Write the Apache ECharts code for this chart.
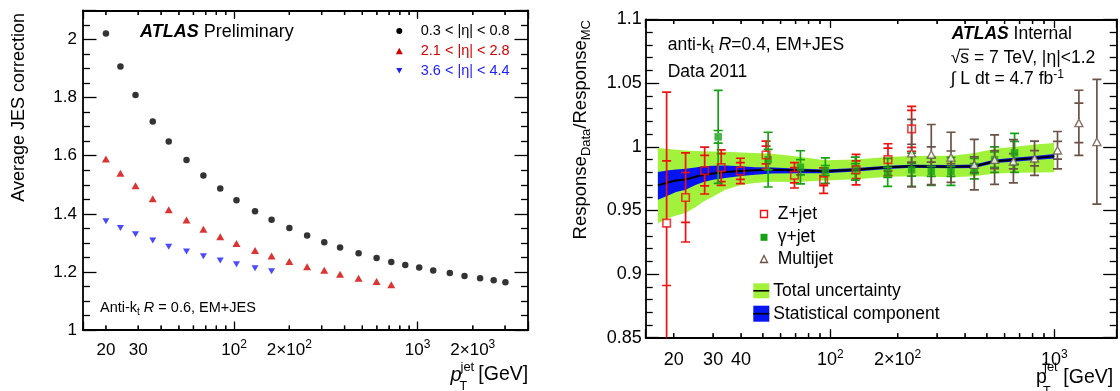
<!DOCTYPE html>
<html>
<head>
<meta charset="utf-8">
<script src="https://cdn.jsdelivr.net/npm/echarts@6/dist/echarts.min.js"></script>
<style>
  html, body { margin: 0; padding: 0; background: #fff; }
  #chart { width: 1120px; height: 391px; }
</style>
</head>
<body>
<div id="chart"></div>
<script>
// ---------- Left panel: average JES correction vs jet pT ----------
const ptBarrel   = [20, 24, 29, 36, 44, 55, 68, 84, 103, 130, 160, 200, 250, 310, 378, 477, 598, 719, 857, 1021, 1217, 1499, 1803, 2193, 2600, 3013];
const corrBarrel = [2.021, 1.907, 1.809, 1.718, 1.649, 1.585, 1.532, 1.487, 1.447, 1.409, 1.380, 1.351, 1.325, 1.302, 1.284, 1.264, 1.248, 1.234, 1.224, 1.215, 1.205, 1.196, 1.186, 1.178, 1.171, 1.164];
const ptEndcap   = [20, 24, 29, 36, 44, 55, 68, 84, 103, 130, 160, 200, 250, 310, 378, 477, 598, 719];
const corrEndcap = [1.589, 1.540, 1.497, 1.452, 1.414, 1.379, 1.347, 1.321, 1.298, 1.274, 1.255, 1.236, 1.218, 1.206, 1.192, 1.178, 1.167, 1.156];
const ptForward   = [20, 24, 29, 36, 44, 55, 68, 84, 103, 130, 160];
const corrForward = [1.374, 1.351, 1.330, 1.308, 1.287, 1.270, 1.254, 1.239, 1.226, 1.213, 1.202];

const leftXLabelValues = [20, 30, 100, 200, 1000, 2000];
const leftXLabelTexts  = ['20', '30', '10{s|2}', '2×10{s|2}', '10{s|3}', '2×10{s|3}'];
const leftXMinorTicks  = [20, 30, 40, 50, 60, 70, 80, 90, 200, 300, 400, 500, 600, 700, 800, 900, 2000, 3000];
const leftYLabelValues = [1, 1.2, 1.4, 1.6, 1.8, 2];

// ---------- Right panel: in-situ response ratio Data/MC ----------
const zjetPt   = [18.6, 22.6, 27.5, 32.6, 39.7, 51.7, 69.2, 93.4, 130.4, 181, 230.8];
const zjetVal  = [0.940, 0.9602, 0.9813, 0.9836, 0.981, 0.9935, 0.9776, 0.9734, 0.982, 0.9899, 1.0141];
const zjetStat = [0.049, 0.0196, 0.012, 0.011, 0.0066, 0.007, 0.006, 0.004, 0.007, 0.009, 0.0145];
const zjetTot  = [0.103, 0.035, 0.0184, 0.014, 0.010, 0.011, 0.010, 0.010, 0.012, 0.0125, 0.0176];

const gjetPt   = [31.6, 52.8, 73.6, 95.1, 129.4, 180.5, 230.8, 282.5, 345.9, 439.6, 541.6, 665.1];
const gjetVal  = [1.0078, 0.9899, 0.9839, 0.9813, 0.9828, 0.9799, 0.982, 0.9807, 0.9807, 0.9828, 0.9899, 0.9952];
const gjetStat = [0.005, 0.008, 0.006, 0.004, 0.004, 0.004, 0.005, 0.004, 0.004, 0.004, 0.006, 0.009];
const gjetTot  = [0.0365, 0.0215, 0.013, 0.010, 0.009, 0.011, 0.013, 0.011, 0.011, 0.008, 0.010, 0.0153];

const mjetPt   = [230.8, 282.5, 345.9, 439.6, 541.6, 657, 816.6, 1034, 1288, 1550];
const mjetVal  = [0.9950, 0.9939, 0.9917, 0.986, 0.9899, 0.9886, 0.991, 0.9973, 1.0188, 1.0039];
const mjetStat = [0.007, 0.006, 0.005, 0.006, 0.007, 0.006, 0.006, 0.007, 0.0155, 0];
const mjetTot  = [0.0265, 0.0236, 0.0197, 0.0198, 0.0195, 0.017, 0.0134, 0.0147, 0.0256, 0.049];

const bandPt      = [17, 19, 20.5, 22.6, 25, 27.2, 30, 34, 40, 46, 55, 70, 95, 130, 180, 230, 350, 440, 544, 700, 820, 1000];
const bandCentral = [0.9697, 0.9722, 0.9735, 0.9742, 0.9765, 0.978, 0.979, 0.9802, 0.981, 0.9815, 0.982, 0.9815, 0.9807, 0.982, 0.9839, 0.9847, 0.9844, 0.9847, 0.9886, 0.9902, 0.9912, 0.9925];
const totalHigh   = [0.9991, 0.9982, 0.9976, 0.997, 0.9967, 0.9965, 0.9962, 0.996, 0.9956, 0.9952, 0.9945, 0.9925, 0.9895, 0.9900, 0.9920, 0.9928, 0.9930, 0.9952, 0.9985, 1.0005, 1.0018, 1.003];
const totalLow    = [0.940, 0.944, 0.946, 0.948, 0.9525, 0.957, 0.961, 0.9663, 0.970, 0.9716, 0.9725, 0.9724, 0.9735, 0.9745, 0.9765, 0.9768, 0.976, 0.9768, 0.9790, 0.9795, 0.9797, 0.980];
const statHigh    = [0.9802, 0.9815, 0.9822, 0.9828, 0.9838, 0.9847, 0.985, 0.9852, 0.9848, 0.9839, 0.9838, 0.983, 0.9822, 0.9833, 0.985, 0.9858, 0.9856, 0.986, 0.9900, 0.9918, 0.9928, 0.9943];
const statLow     = [0.9584, 0.962, 0.9645, 0.9663, 0.970, 0.9724, 0.974, 0.9755, 0.977, 0.9781, 0.979, 0.9792, 0.9792, 0.9806, 0.9826, 0.9835, 0.9832, 0.9834, 0.9872, 0.9886, 0.9896, 0.9907];

const rightXLabelValues = [20, 30, 40, 100, 200, 1000];
const rightXLabelTexts  = ['20', '30', '40', '10{s|2}', '2×10{s|2}', '10{s|3}'];
const rightXMinorTicks  = [20, 30, 40, 50, 60, 70, 80, 90, 200, 300, 400, 500, 600, 700, 800, 900];
const rightYLabelValues = [0.85, 0.9, 0.95, 1, 1.05, 1.1];

// axis ranges and tick spacing
const LEFT_X = [15, 4000], LEFT_Y = [1, 2.1], LEFT_Y_STEP = 0.2, LEFT_Y_MINOR_SPLIT = 4;
const RIGHT_X = [15, 1900], RIGHT_Y = [0.85, 1.1], RIGHT_Y_STEP = 0.05, RIGHT_Y_MINOR_SPLIT = 5;

// ---------- styling ----------
const FONT = '"Liberation Sans", Arial, sans-serif';
const COL_RED = '#d40000', COL_BLUE = '#1c1cff';
const COL_Z = '#f01010', COL_G = '#14a214', COL_MJ = '#6b5246';
const COL_TOT = '#a2f23c', COL_STAT = '#0714f2';
const FRAME = { show: true, onZero: false, lineStyle: { color: '#000', width: 1.8 } };
const TICK_MINOR_X = 4.5, TICK_MAJOR_X = 8.5, TICK_MAJOR_Y = 13.5, TICK_MINOR_Y = 7;

const pairs = (xs, ys) => xs.map((x, i) => [x, ys[i]]);
const pickLabel = (vals, texts) => v => {
  for (let i = 0; i < vals.length; i++) if (Math.abs(v - vals[i]) < vals[i] * 1e-4) return texts[i];
  return '';
};
const supRich = { s: { fontSize: 12, lineHeight: 12, padding: [0, 0, 10, 0], fontFamily: FONT, color: '#000' } };

// log x axes: bottom one carries the labels, top one mirrors the frame and decade ticks
function xAxesFor(grid, range, labVals, labTexts, fontSize, margin) {
  const base = { gridIndex: grid, type: 'log', logBase: 10, min: range[0], max: range[1],
    axisLine: FRAME, splitLine: { show: false }, minorTick: { show: false },
    axisTick: { show: true, inside: true, length: TICK_MAJOR_X, lineStyle: { color: '#000', width: 1.3 } } };
  return [
    Object.assign({}, base, { position: 'bottom',
      axisLabel: { show: true, customValues: labVals, formatter: pickLabel(labVals, labTexts), fontFamily: FONT,
        fontSize, color: '#000', margin, lineHeight: 22, rich: supRich } }),
    Object.assign({}, base, { position: 'top', axisLabel: { show: false } })
  ];
}
// value y axes: left one carries the labels, right one mirrors the frame and ticks
function yAxesFor(grid, range, step, minorSplit, labVals, fmt, fontSize, margin) {
  const base = { gridIndex: grid, type: 'value', min: range[0], max: range[1], interval: step,
    axisLine: FRAME, splitLine: { show: false }, minorSplitLine: { show: false },
    axisTick: { show: true, inside: true, length: TICK_MAJOR_Y, lineStyle: { color: '#000', width: 1.3 } },
    minorTick: { show: true, splitNumber: minorSplit, length: TICK_MINOR_Y, lineStyle: { color: '#000', width: 1.3 } } };
  return [
    Object.assign({}, base, { position: 'left',
      axisLabel: { show: true, customValues: labVals, formatter: fmt, fontFamily: FONT, fontSize, color: '#000', margin } }),
    Object.assign({}, base, { position: 'right', axisLabel: { show: false } })
  ];
}

// minor pT ticks (20, 30, ... per decade) as thin marks on the bottom and top frame
function minorXTicks(axisIdx, vals, yr) {
  const mk = (y, off) => ({ type: 'scatter', xAxisIndex: axisIdx, yAxisIndex: axisIdx, silent: true, clip: false, z: 21,
    data: vals.map(v => [v, y]), symbol: 'rect', symbolSize: [1.3, TICK_MINOR_X], symbolOffset: [0, off],
    itemStyle: { color: '#000' }, emphasis: { disabled: true } });
  return [mk(yr[0], -TICK_MINOR_X / 2), mk(yr[1], TICK_MINOR_X / 2)];
}

// error bars with caps at the statistical and at the total uncertainty
function errorBars(name, pts, vals, stat, tot, color) {
  return {
    type: 'custom', name, xAxisIndex: 2, yAxisIndex: 2, clip: true, z: 3, silent: true,
    data: pts.map((p, i) => [p, vals[i], stat[i], tot[i]]),
    encode: { x: 0, y: 1 },
    renderItem(params, api) {
      const x = api.value(0), y = api.value(1), s = api.value(2), t = api.value(3);
      const c = api.coord([x, y]), hi = api.coord([x, y + t]), lo = api.coord([x, y - t]);
      const gap = 3.8, hw = 4.5;
      const seg = (x1, y1, x2, y2) => ({ type: 'line', shape: { x1, y1, x2, y2 }, style: { stroke: color, lineWidth: 1.7 } });
      const kids = [];
      if (hi[1] < c[1] - gap) kids.push(seg(c[0], c[1] - gap, c[0], hi[1]));
      if (lo[1] > c[1] + gap) kids.push(seg(c[0], c[1] + gap, c[0], lo[1]));
      kids.push(seg(c[0] - hw, hi[1], c[0] + hw, hi[1]));
      kids.push(seg(c[0] - hw, lo[1], c[0] + hw, lo[1]));
      if (s > 0) {
        const sh = api.coord([x, y + s]), sl = api.coord([x, y - s]);
        if (c[1] - sh[1] > gap) kids.push(seg(c[0] - hw, sh[1], c[0] + hw, sh[1]));
        if (sl[1] - c[1] > gap) kids.push(seg(c[0] - hw, sl[1], c[0] + hw, sl[1]));
      }
      return { type: 'group', children: kids };
    }
  };
}
function band(lo, hi, color, z) {
  return {
    type: 'custom', xAxisIndex: 2, yAxisIndex: 2, clip: true, z, silent: true,
    data: [[bandPt[0], bandCentral[0]]],
    encode: { x: 0, y: 1 },
    renderItem(params, api) {
      const upper = bandPt.map((p, i) => api.coord([p, hi[i]]));
      const lower = bandPt.map((p, i) => api.coord([p, lo[i]])).reverse();
      return { type: 'polygon', shape: { points: upper.concat(lower) }, style: { fill: color } };
    }
  };
}

// ---------- text helpers ----------
function txt(x, y, text, size, extra) {
  return { type: 'text', x, y, silent: true, z: 20,
    style: Object.assign({ text, fontFamily: FONT, fontSize: size, fill: '#000',
      align: 'left', textAlign: 'left', verticalAlign: 'middle', textVerticalAlign: 'middle' }, extra || {}) };
}
const richSub = (size) => ({ fontSize: size, lineHeight: size, padding: [size * 0.85, 0, 0, 0], fontFamily: FONT, fill: '#000', color: '#000' });
const richSup = (size) => ({ fontSize: size, lineHeight: size, padding: [0, 0, size * 0.8, 0], fontFamily: FONT, fill: '#000', color: '#000' });
const richBI  = (size) => ({ fontSize: size, fontWeight: 'bold', fontStyle: 'italic', fontFamily: FONT, fill: '#000', color: '#000' });
const richI   = (size) => ({ fontSize: size, fontStyle: 'italic', fontFamily: FONT, fill: '#000', color: '#000' });
const tri = (cx, cy, w, h, down, fill, stroke) => ({ type: 'polygon', silent: true, z: 20,
  shape: { points: down ? [[cx - w / 2, cy - h / 2], [cx + w / 2, cy - h / 2], [cx, cy + h / 2]]
                        : [[cx, cy - h / 2], [cx + w / 2, cy + h / 2], [cx - w / 2, cy + h / 2]] },
  style: { fill, stroke: stroke || null, lineWidth: stroke ? 1.3 : 0 } });

const annotations = [
  // left panel
  txt(140, 32, '{b|ATLAS} Preliminary', 18, { rich: { b: richBI(18) } }),
  { type: 'circle', silent: true, z: 20, shape: { cx: 399.3, cy: 31, r: 3 }, style: { fill: '#000' } },
  tri(399.3, 51, 7, 6.5, false, COL_RED),
  tri(399.3, 70.7, 6, 5.5, true, COL_BLUE),
  txt(420.7, 31, '0.3 < |η| < 0.8', 14.5),
  txt(420.7, 51, '2.1 < |η| < 2.8', 14.5, { fill: COL_RED }),
  txt(420.7, 70.7, '3.6 < |η| < 4.4', 14.5, { fill: COL_BLUE }),
  txt(100, 307.7, 'Anti-k{sub|t} {i|R} = 0.6, EM+JES', 14.5, { rich: { sub: richSub(10), i: richI(14.5) } }),
  Object.assign(txt(19.5, 13, 'Average JES correction', 18, { align: 'right', textAlign: 'right' }), { rotation: Math.PI / 2 }),
  txt(450.5, 375, 'p', 20, { fontStyle: 'italic' }),
  txt(460.5, 367.2, 'jet', 13),
  txt(459.5, 386.5, 'T', 12.5),
  txt(478.3, 375, '[GeV]', 19.5),
  // right panel
  txt(667.7, 45, 'anti-k{sub|t} {i|R}=0.4, EM+JES', 17.5, { rich: { sub: richSub(12), i: richI(17.5) } }),
  txt(667.7, 71.7, 'Data 2011', 17.5),
  txt(951.7, 34.3, '{b|ATLAS} Internal', 17.5, { rich: { b: richBI(17.5) } }),
  txt(950.7, 58.3, '√s = 7 TeV, |η|<1.2', 17.5),
  { type: 'line', silent: true, z: 20, shape: { x1: 959, y1: 49.2, x2: 969, y2: 49.2 }, style: { stroke: '#000', lineWidth: 1.1 } },
  txt(950.7, 79, '∫ L dt = 4.7 fb{sup|-1}', 17.5, { rich: { sup: richSup(12) } }),
  Object.assign(txt(581, 20, 'Response{sub|Data}/Response{sub|MC}', 18.5, { align: 'right', textAlign: 'right', rich: { sub: richSub(13) } }), { rotation: Math.PI / 2 }),
  txt(1036, 377.7, 'p', 19.5),
  txt(1044, 367, 'jet', 13),
  txt(1043, 392, 'T', 12.5),
  txt(1063.3, 377.7, '[GeV]', 19.5),
  // right legend
  { type: 'rect', silent: true, z: 20, shape: { x: 760.5, y: 210.5, width: 7, height: 7 }, style: { fill: '#fff', stroke: COL_Z, lineWidth: 1.4 } },
  { type: 'rect', silent: true, z: 20, shape: { x: 760.5, y: 233.8, width: 7, height: 7 }, style: { fill: COL_G } },
  tri(764, 259, 7, 7, false, '#fff', COL_MJ),
  txt(777.7, 214, 'Z+jet', 17.5),
  txt(777.7, 237.3, 'γ+jet', 17.5),
  txt(777.7, 259, 'Multijet', 17.5),
  { type: 'rect', silent: true, z: 20, shape: { x: 753.3, y: 283.3, width: 16, height: 15 }, style: { fill: COL_TOT } },
  { type: 'line', silent: true, z: 21, shape: { x1: 753.3, y1: 290.8, x2: 769.3, y2: 290.8 }, style: { stroke: '#000', lineWidth: 1.6 } },
  { type: 'rect', silent: true, z: 20, shape: { x: 753.3, y: 305.7, width: 16, height: 16 }, style: { fill: COL_STAT } },
  { type: 'line', silent: true, z: 21, shape: { x1: 753.3, y1: 313.7, x2: 769.3, y2: 313.7 }, style: { stroke: '#000', lineWidth: 1.6 } },
  txt(773.3, 291, 'Total uncertainty', 17.5),
  txt(773.3, 313.7, 'Statistical component', 17.5)
];

const option = {
  animation: false,
  backgroundColor: '#fff',
  grid: [
    { left: 83, top: 10.5, width: 445, height: 319.5, show: false },
    { left: 645.7, top: 19.5, width: 471, height: 318.2, show: false }
  ],
  xAxis: [].concat(
    xAxesFor(0, LEFT_X, leftXLabelValues, leftXLabelTexts, 17, 9),
    xAxesFor(1, RIGHT_X, rightXLabelValues, rightXLabelTexts, 18, 11)
  ),
  yAxis: [].concat(
    yAxesFor(0, LEFT_Y, LEFT_Y_STEP, LEFT_Y_MINOR_SPLIT, leftYLabelValues, v => String(Math.round(v * 10) / 10), 17, 6),
    yAxesFor(1, RIGHT_Y, RIGHT_Y_STEP, RIGHT_Y_MINOR_SPLIT, rightYLabelValues, v => String(Math.round(v * 100) / 100), 18, 4)
  ),
  series: [].concat(
    [
      { type: 'scatter', name: '0.3 < |η| < 0.8', xAxisIndex: 0, yAxisIndex: 0, data: pairs(ptBarrel, corrBarrel),
        symbol: 'circle', symbolSize: 6.5, itemStyle: { color: '#000' }, z: 4 },
      { type: 'scatter', name: '2.1 < |η| < 2.8', xAxisIndex: 0, yAxisIndex: 0, data: pairs(ptEndcap, corrEndcap),
        symbol: 'triangle', symbolSize: [8, 7], itemStyle: { color: COL_RED }, z: 4 },
      { type: 'scatter', name: '3.6 < |η| < 4.4', xAxisIndex: 0, yAxisIndex: 0, data: pairs(ptForward, corrForward),
        symbol: 'triangle', symbolRotate: 180, symbolSize: [7, 6], itemStyle: { color: COL_BLUE }, z: 4 },

      band(totalLow, totalHigh, COL_TOT, 1),
      band(statLow, statHigh, COL_STAT, 1.5),
      { type: 'line', name: 'central', xAxisIndex: 2, yAxisIndex: 2, data: pairs(bandPt, bandCentral),
        showSymbol: false, symbol: 'none', lineStyle: { color: '#000', width: 2 }, z: 2, silent: true },

      errorBars('Z+jet err', zjetPt, zjetVal, zjetStat, zjetTot, COL_Z),
      errorBars('γ+jet err', gjetPt, gjetVal, gjetStat, gjetTot, COL_G),
      errorBars('Multijet err', mjetPt, mjetVal, mjetStat, mjetTot, COL_MJ),

      { type: 'scatter', name: 'γ+jet', xAxisIndex: 2, yAxisIndex: 2, data: pairs(gjetPt, gjetVal),
        symbol: 'rect', symbolSize: 7.5, itemStyle: { color: COL_G }, z: 5 },
      { type: 'scatter', name: 'Z+jet', xAxisIndex: 2, yAxisIndex: 2, data: pairs(zjetPt, zjetVal),
        symbol: 'rect', symbolSize: 7.5, itemStyle: { color: 'rgba(255,255,255,0)', borderColor: COL_Z, borderWidth: 1.6 }, z: 6 },
      { type: 'scatter', name: 'Multijet', xAxisIndex: 2, yAxisIndex: 2, data: pairs(mjetPt, mjetVal),
        symbol: 'triangle', symbolSize: [8, 7.5], itemStyle: { color: '#fff', borderColor: COL_MJ, borderWidth: 1.4 }, z: 6 }
    ],
    minorXTicks(0, leftXMinorTicks, LEFT_Y),
    minorXTicks(2, rightXMinorTicks, RIGHT_Y)
  )
};

const chart = echarts.init(document.getElementById('chart'), null, { renderer: 'canvas' });
chart.setOption(option);

// the same minor pT ticks as frame lines, placed through each panel's axes
function minorTickLines(axisIdx, vals, yr) {
  const out = [];
  const toPx = (x, y) => chart.convertToPixel({ xAxisIndex: axisIdx, yAxisIndex: axisIdx }, [x, y]);
  const bottom = toPx(vals[0], yr[0])[1], top = toPx(vals[0], yr[1])[1];
  vals.forEach(v => {
    const px = toPx(v, yr[0])[0];
    out.push({ type: 'line', silent: true, z: 22, shape: { x1: px, y1: bottom, x2: px, y2: bottom - TICK_MINOR_X }, style: { stroke: '#000', lineWidth: 1.3 } });
    out.push({ type: 'line', silent: true, z: 22, shape: { x1: px, y1: top, x2: px, y2: top + TICK_MINOR_X }, style: { stroke: '#000', lineWidth: 1.3 } });
  });
  return out;
}
let tickLines = [];
try {
  tickLines = minorTickLines(0, leftXMinorTicks, LEFT_Y).concat(minorTickLines(2, rightXMinorTicks, RIGHT_Y))
    .filter(el => isFinite(el.shape.x1) && isFinite(el.shape.y1));
} catch (e) { tickLines = []; }
chart.setOption({ graphic: tickLines.concat(annotations) });
</script>
</body>
</html>
